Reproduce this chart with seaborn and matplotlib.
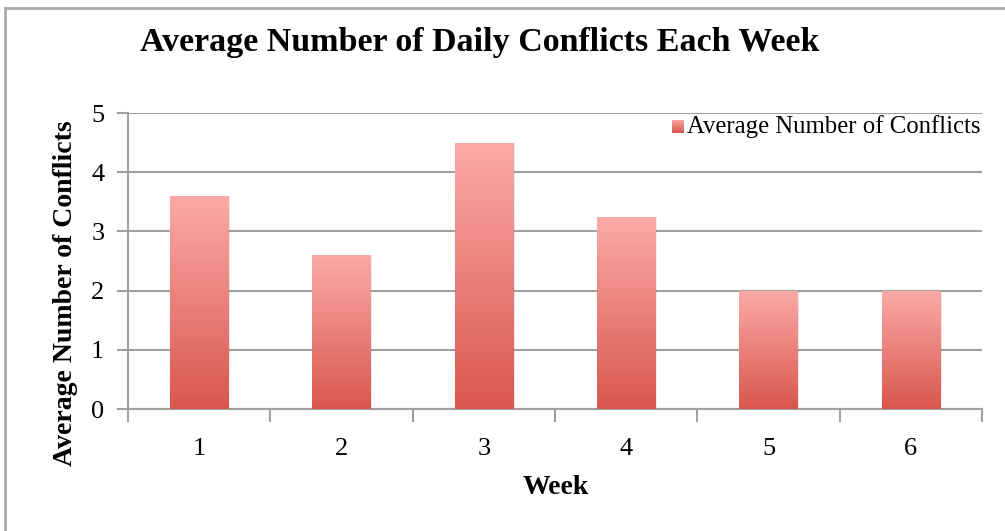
import numpy as np
import pandas as pd
import matplotlib
matplotlib.use("Agg")
import matplotlib.pyplot as plt
import seaborn as sns
from matplotlib.patches import Rectangle
from matplotlib.colors import LinearSegmentedColormap

weeks = ["1", "2", "3", "4", "5", "6"]
avg_conflicts = [3.6, 2.6, 4.5, 3.25, 2.0, 2.0]
series_name = "Average Number of Conflicts"
title = "Average Number of Daily Conflicts Each Week"
x_label = "Week"
y_label = "Average Number of Conflicts"
y_ticks = [0, 1, 2, 3, 4, 5]

sns.set_theme(style="white")
plt.rcParams['font.family'] = ['Liberation Serif', 'DejaVu Serif']

df = pd.DataFrame({"Week": weeks, "Value": avg_conflicts})

fig = plt.figure(figsize=(10.05, 5.31), dpi=100)
ax = fig.add_axes([128/1005, 1-409/531, (982-128)/1005, (409-113)/531])

sns.barplot(data=df, x="Week", y="Value", ax=ax, width=0.41, color="#e87a74",
            edgecolor="none", zorder=3)

grad_cmap = LinearSegmentedColormap.from_list("g", ["#d9574d", "#fbaaa7"])
grad = np.linspace(0, 1, 256).reshape(-1, 1)
for p in list(ax.patches):
    x0, y0 = p.get_x(), p.get_y()
    w, h = p.get_width(), p.get_height()
    sh = Rectangle((x0 + 0.012, y0), w, h, facecolor="#000000", alpha=0.08,
                   edgecolor="none", zorder=2.5)
    ax.add_patch(sh)
    im = ax.imshow(grad, extent=[x0, x0 + w, y0, y0 + h], origin="lower",
                   cmap=grad_cmap, aspect="auto", zorder=3.5)
    im.set_clip_path(p)
    p.set_facecolor("none")

ax.set_xlim(-0.5, 5.5)
ax.set_ylim(0, 5)
ax.set_yticks(y_ticks)
ax.yaxis.grid(True, color="#a0a0a0", linewidth=1.5, zorder=0)
ax.set_axisbelow(True)

for s in ["top", "right"]:
    ax.spines[s].set_visible(False)
for s in ["left", "bottom"]:
    ax.spines[s].set_color("#a0a0a0")
    ax.spines[s].set_linewidth(1.5)

ax.set_xticks(np.arange(-0.5, 6.0, 1.0), minor=True)
ax.tick_params(axis="x", which="minor", length=9, width=1.5, color="#a0a0a0", direction="out", bottom=True)
ax.tick_params(axis="x", which="major", length=0, labelsize=19, pad=21, colors="black")
ax.tick_params(axis="y", which="major", length=8, width=1.5, color="#a0a0a0", direction="out", left=True,
               labelsize=19, labelcolor="black", pad=9)

ax.set_xlabel("")
ax.set_ylabel("")
fig.text(556/1005, 1-487/531, x_label, ha="center", va="center", fontsize=20,
         fontweight="bold", color="black")
fig.text(66/1005, 1-293/531, y_label, ha="center", va="center", fontsize=20,
         fontweight="bold", color="black", rotation=90)

fig.text(480/1005, 1-42/531, title, ha="center", va="center", fontsize=24.5,
         fontweight="bold", color="black")

lx, ly = 672, 127
lax = fig.add_axes([lx/1005, 1-(ly+6)/531, 12/1005, 13/531])
lax.imshow(grad, cmap=grad_cmap, origin="lower", aspect="auto")
lax.axis("off")
fig.text(687/1005, 1-ly/531, series_name, ha="left", va="center", fontsize=17.8, color="black")

fig.patches.append(Rectangle((5/1005, -0.1), 1.1, 1-8/531 + 0.1, transform=fig.transFigure,
                             fill=False, edgecolor="#a8a8a8", linewidth=2, zorder=0))

fig.savefig("out.png", dpi=100)
